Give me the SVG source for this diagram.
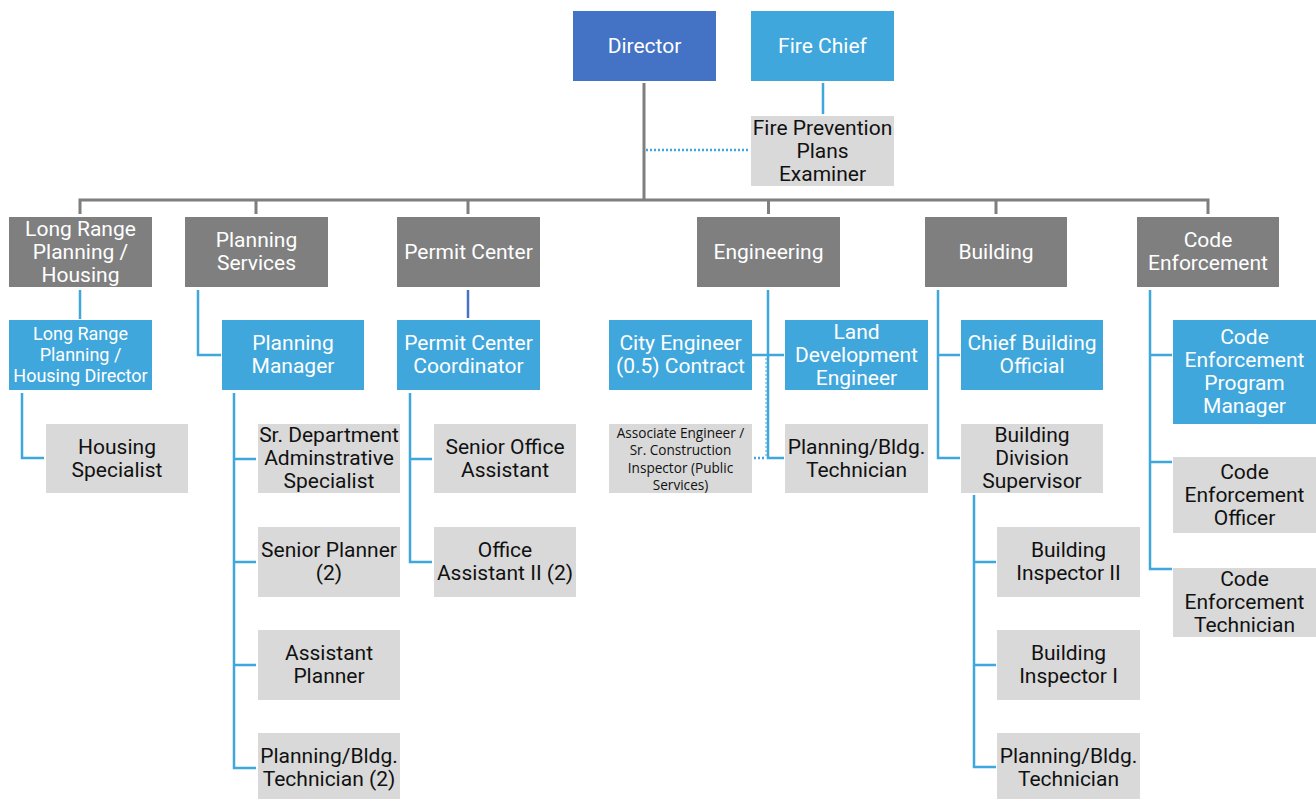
<svg xmlns="http://www.w3.org/2000/svg" width="1316" height="799" viewBox="0 0 1316 799">
<style>
.dir{fill:#4472C4}
.blue{fill:#3FA7DC}
.dark{fill:#7F7F7F}
.light{fill:#D9D9D9}
text{font-family:Roboto,"Liberation Sans",sans-serif;font-size:21px;text-anchor:middle}
.w{fill:#FFFFFF}
.k{fill:#111111}
.sm{font-size:18px}
.xs{font-family:"Open Sans","Liberation Sans",sans-serif;font-size:13.6px}
.g{stroke:#7F7F7F;stroke-width:3;fill:none}
.b{stroke:#3FA7DC;stroke-width:2.5;fill:none}
.db{stroke:#4472C4;stroke-width:2.5;fill:none}
.dot{stroke:#3FA7DC;stroke-width:2.5;fill:none;stroke-dasharray:2 2}
.dotthin{stroke:#3FA7DC;stroke-width:1;fill:none;stroke-dasharray:2 2}
</style>
<rect width="1316" height="799" fill="#FFFFFF"/>
<g id="connectors">
<path class="g" d="M644 83V200M80 214V200H1208V214M256 200V214M468 200V214M768.5 200V214M996 200V214"/>
<path class="b" d="M823 83V114"/>
<path class="dot" d="M646 150H749"/>
<path class="b" d="M80 290V319"/>
<path class="b" d="M22 393V458H44"/>
<path class="b" d="M198 290V355H221"/>
<path class="b" d="M234 393V768H256M234 459H256M234 562H256M234 665H256"/>
<path class="db" d="M468 290V318"/>
<path class="b" d="M410 393V562H432M410 459H432"/>
<path class="b" d="M768 290V458H784M752 355H784"/>
<path class="dotthin" d="M766 358V456"/>
<path class="dot" d="M754 458H766"/>
<path class="b" d="M938 290V458H960M938 355H960"/>
<path class="b" d="M974 495V767H996M974 562H996M974 665H996"/>
<path class="b" d="M1150 290V569H1172M1150 355H1172M1150 462H1172"/>
</g>
<g id="director"><rect class="dir" x="573" y="11" width="143" height="70"/><text class="w" x="644.5" y="52.5">Director</text></g>
<g id="fire-chief"><rect class="blue" x="751" y="11" width="143" height="70"/><text class="w" x="822.5" y="52.5">Fire Chief</text></g>
<g id="fire-prevention"><rect class="light" x="751" y="116" width="143" height="70"/><text class="k" x="822.5" y="135">Fire Prevention</text><text class="k" x="822.5" y="158">Plans</text><text class="k" x="822.5" y="181">Examiner</text></g>
<g id="long-range"><rect class="dark" x="9" y="217" width="143" height="70"/><text class="w" x="80.5" y="235.5">Long Range</text><text class="w" x="80.5" y="258.5">Planning /</text><text class="w" x="80.5" y="281.5">Housing</text></g>
<g id="planning-services"><rect class="dark" x="185" y="217" width="143" height="70"/><text class="w" x="256.5" y="247">Planning</text><text class="w" x="256.5" y="270">Services</text></g>
<g id="permit-center"><rect class="dark" x="397" y="217" width="143" height="70"/><text class="w" x="468.5" y="258.5">Permit Center</text></g>
<g id="engineering"><rect class="dark" x="697" y="217" width="143" height="70"/><text class="w" x="768.5" y="258.5">Engineering</text></g>
<g id="building"><rect class="dark" x="925" y="217" width="142" height="70"/><text class="w" x="996" y="258.5">Building</text></g>
<g id="code-enforcement"><rect class="dark" x="1137" y="217" width="142" height="70"/><text class="w" x="1208" y="247">Code</text><text class="w" x="1208" y="270">Enforcement</text></g>
<g id="lr-director"><rect class="blue" x="9" y="320" width="143" height="70"/><text class="w sm" x="80.5" y="340">Long Range</text><text class="w sm" x="80.5" y="361">Planning /</text><text class="w sm" x="80.5" y="381.5">Housing Director</text></g>
<g id="housing-specialist"><rect class="light" x="46" y="424" width="142" height="69"/><text class="k" x="117" y="454">Housing</text><text class="k" x="117" y="477">Specialist</text></g>
<g id="planning-manager"><rect class="blue" x="222" y="320" width="142" height="70"/><text class="w" x="293" y="350">Planning</text><text class="w" x="293" y="373">Manager</text></g>
<g id="sr-dept-admin"><rect class="light" x="258" y="424" width="142" height="69"/><text class="k" x="329" y="442">Sr. Department</text><text class="k" x="329" y="465">Adminstrative</text><text class="k" x="329" y="488">Specialist</text></g>
<g id="senior-planner"><rect class="light" x="258" y="527" width="142" height="70"/><text class="k" x="329" y="557">Senior Planner</text><text class="k" x="329" y="580">(2)</text></g>
<g id="assistant-planner"><rect class="light" x="258" y="630" width="142" height="70"/><text class="k" x="329" y="660">Assistant</text><text class="k" x="329" y="683">Planner</text></g>
<g id="planning-tech-2"><rect class="light" x="258" y="733" width="142" height="70"/><text class="k" x="329" y="763">Planning/Bldg.</text><text class="k" x="329" y="786">Technician (2)</text></g>
<g id="permit-coordinator"><rect class="blue" x="397" y="320" width="143" height="70"/><text class="w" x="468.5" y="350">Permit Center</text><text class="w" x="468.5" y="373">Coordinator</text></g>
<g id="senior-office-assistant"><rect class="light" x="434" y="424" width="142" height="69"/><text class="k" x="505" y="453.5">Senior Office</text><text class="k" x="505" y="476.5">Assistant</text></g>
<g id="office-assistant-2"><rect class="light" x="434" y="527" width="142" height="70"/><text class="k" x="505" y="557">Office</text><text class="k" x="505" y="580">Assistant II (2)</text></g>
<g id="city-engineer"><rect class="blue" x="609" y="320" width="143" height="70"/><text class="w" x="680.5" y="350">City Engineer</text><text class="w" x="680.5" y="373">(0.5) Contract</text></g>
<g id="land-dev-engineer"><rect class="blue" x="785" y="320" width="143" height="70"/><text class="w" x="856.5" y="338.5">Land</text><text class="w" x="856.5" y="361.5">Development</text><text class="w" x="856.5" y="384.5">Engineer</text></g>
<g id="associate-engineer"><rect class="light" x="609" y="424" width="143" height="69"/><text class="k xs" x="680.5" y="437.5">Associate Engineer /</text><text class="k xs" x="680.5" y="454.5">Sr. Construction</text><text class="k xs" x="680.5" y="472.5">Inspector (Public</text><text class="k xs" x="680.5" y="490">Services)</text></g>
<g id="eng-planning-tech"><rect class="light" x="785" y="424" width="143" height="69"/><text class="k" x="856.5" y="453.5">Planning/Bldg.</text><text class="k" x="856.5" y="476.5">Technician</text></g>
<g id="chief-building-official"><rect class="blue" x="961" y="320" width="142" height="70"/><text class="w" x="1032" y="350">Chief Building</text><text class="w" x="1032" y="373">Official</text></g>
<g id="building-supervisor"><rect class="light" x="961" y="424" width="142" height="69"/><text class="k" x="1032" y="442">Building</text><text class="k" x="1032" y="465">Division</text><text class="k" x="1032" y="488">Supervisor</text></g>
<g id="building-inspector-2"><rect class="light" x="997" y="527" width="143" height="70"/><text class="k" x="1068.5" y="557">Building</text><text class="k" x="1068.5" y="580">Inspector II</text></g>
<g id="building-inspector-1"><rect class="light" x="997" y="630" width="143" height="70"/><text class="k" x="1068.5" y="660">Building</text><text class="k" x="1068.5" y="683">Inspector I</text></g>
<g id="bldg-planning-tech"><rect class="light" x="997" y="733" width="143" height="70"/><text class="k" x="1068.5" y="763">Planning/Bldg.</text><text class="k" x="1068.5" y="786">Technician</text></g>
<g id="code-program-manager"><rect class="blue" x="1173" y="320" width="143" height="104"/><text class="w" x="1244.5" y="344">Code</text><text class="w" x="1244.5" y="367">Enforcement</text><text class="w" x="1244.5" y="390">Program</text><text class="w" x="1244.5" y="413">Manager</text></g>
<g id="code-officer"><rect class="light" x="1173" y="457" width="143" height="76"/><text class="k" x="1244.5" y="479">Code</text><text class="k" x="1244.5" y="502">Enforcement</text><text class="k" x="1244.5" y="525">Officer</text></g>
<g id="code-technician"><rect class="light" x="1173" y="568" width="143" height="69"/><text class="k" x="1244.5" y="586">Code</text><text class="k" x="1244.5" y="609">Enforcement</text><text class="k" x="1244.5" y="632">Technician</text></g>
</svg>
